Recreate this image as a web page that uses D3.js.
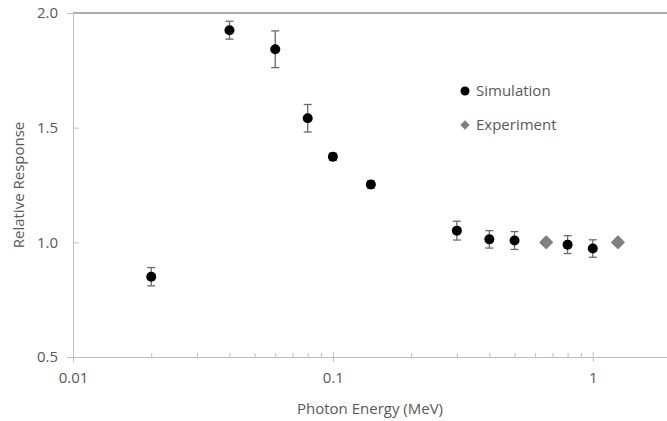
<!DOCTYPE html>
<html lang="en">
<head>
<meta charset="utf-8"/>
<script src="https://cdnjs.cloudflare.com/ajax/libs/d3/7.8.5/d3.min.js"></script>
<style>
  body { margin: 0; background: #fff; }
  text { font-family: "Open Sans", sans-serif; fill: #595959; }
</style>
</head>
<body>
<script>
    // values
    var simEnergy = [0.02, 0.04, 0.06, 0.08, 0.1, 0.14, 0.3, 0.4, 0.5, 0.8, 1.0];
    var simResponse = [0.85, 1.925, 1.842, 1.541, 1.373, 1.252, 1.051, 1.013, 1.008, 0.99, 0.973];
    var simError = [0.04, 0.039, 0.08, 0.06, 0.016, 0.016, 0.041, 0.038, 0.039, 0.039, 0.038];

    var expEnergy = [0.662, 1.25];
    var expResponse = [1.0, 1.0];
    var expError = [0.012, 0.012];

    var yTicks = [0.5, 1.0, 1.5, 2.0];
    var xTicks = [0.01, 0.1, 1];

    var width = 667, height = 421;
    var margin = {top: 13, right: -4, bottom: 64, left: 73};

    var svg = d3.select("body").append("svg")
        .attr("width", width)
        .attr("height", height);

    var x = d3.scaleLog()
        .domain([0.01, 2])
        .range([margin.left, width - margin.right]);

    var y = d3.scaleLinear()
        .domain([0.5, 2.0])
        .range([height - margin.bottom, margin.top]);

    // top border line at 2.0
    svg.append("line")
        .attr("x1", x(0.01))
        .attr("x2", width)
        .attr("y1", y(2.0))
        .attr("y2", y(2.0))
        .style("stroke", "#8c8c8c")
        .style("stroke-width", 1.5);

    // y axis
    var yAxis = svg.append("g")
        .attr("transform", "translate(" + margin.left + ",0)")
        .call(d3.axisLeft(y).tickValues(yTicks).tickFormat(d3.format(".1f")).tickSize(6).tickPadding(9));
    yAxis.select(".domain").style("stroke", "#bfbfbf");
    yAxis.selectAll(".tick line").attr("x2", 6).style("stroke", "#bfbfbf");
    yAxis.selectAll("text").style("font-size", "15px").style("fill", "#595959").style("font-family", "Open Sans");

    // x axis, minor ticks
    var minor = x.ticks().filter(function(d) { return xTicks.indexOf(d) < 0; });
    var xMinor = svg.append("g")
        .attr("transform", "translate(0," + y(0.5) + ")")
        .call(d3.axisTop(x).tickValues(minor).tickFormat("").tickSize(4));
    xMinor.select(".domain").remove();
    xMinor.selectAll(".tick line").style("stroke", "#bfbfbf");

    // x axis, major ticks
    var xAxis = svg.append("g")
        .attr("transform", "translate(0," + y(0.5) + ")")
        .call(d3.axisBottom(x).tickValues(xTicks).tickFormat(d3.format("~g")).tickSize(5).tickSizeOuter(0).tickPadding(10));
    xAxis.select(".domain").style("stroke", "#bfbfbf");
    xAxis.selectAll(".tick line").attr("y1", -5).style("stroke", "#bfbfbf");
    xAxis.selectAll("text").style("font-size", "15px").style("fill", "#595959").style("font-family", "Open Sans");

    // axis titles
    svg.append("text")
        .attr("x", (margin.left + width) / 2)
        .attr("y", 414)
        .attr("text-anchor", "middle")
        .style("font-size", "15px")
        .text("Photon Energy (MeV)");

    svg.append("text")
        .attr("transform", "translate(24," + ((y(0.5) + y(2.0)) / 2) + ") rotate(-90)")
        .attr("text-anchor", "middle")
        .style("font-size", "15px")
        .text("Relative Response");

    // error bars
    function errorBars(xs, ys, es, colour) {
        var g = svg.append("g").style("stroke", colour).style("stroke-width", 1.3);
        xs.forEach(function(e, i) {
            g.append("line")
                .attr("x1", x(e)).attr("x2", x(e))
                .attr("y1", y(ys[i] - es[i])).attr("y2", y(ys[i] + es[i]));
            [ys[i] - es[i], ys[i] + es[i]].forEach(function(v) {
                g.append("line")
                    .attr("x1", x(e) - 4).attr("x2", x(e) + 4)
                    .attr("y1", y(v)).attr("y2", y(v));
            });
        });
    }
    errorBars(simEnergy, simResponse, simError, "#6b6b6b");
    errorBars(expEnergy, expResponse, expError, "#808080");

    // simulation points
    svg.selectAll("circle.sim")
        .data(simEnergy)
        .enter()
        .append("circle")
        .attr("class", "sim")
        .attr("cx", function(d) { return x(d); })
        .attr("cy", function(d, i) { return y(simResponse[i]); })
        .attr("r", 5)
        .style("fill", "#000");

    // experiment points
    var diamond = d3.symbol().type(d3.symbolDiamond2).size(85);
    svg.selectAll("path.exp")
        .data(expEnergy)
        .enter()
        .append("path")
        .attr("class", "exp")
        .attr("d", diamond)
        .attr("transform", function(d, i) { return "translate(" + x(d) + "," + y(expResponse[i]) + ")"; })
        .style("fill", "#808080")
        .style("stroke", "#808080")
        .style("stroke-width", 2)
        .style("stroke-linejoin", "round");

    // legend
    var legend = svg.append("g").attr("transform", "translate(465,91)");
    legend.append("circle").attr("r", 4.5).style("fill", "#000");
    legend.append("text").attr("x", 11).attr("y", 5).style("font-size", "15px").text("Simulation");
    legend.append("path")
        .attr("d", d3.symbol().type(d3.symbolDiamond2).size(55))
        .attr("transform", "translate(0,34)")
        .style("fill", "#808080");
    legend.append("text").attr("x", 11).attr("y", 39).style("font-size", "15px").text("Experiment");
</script>
</body>
</html>
